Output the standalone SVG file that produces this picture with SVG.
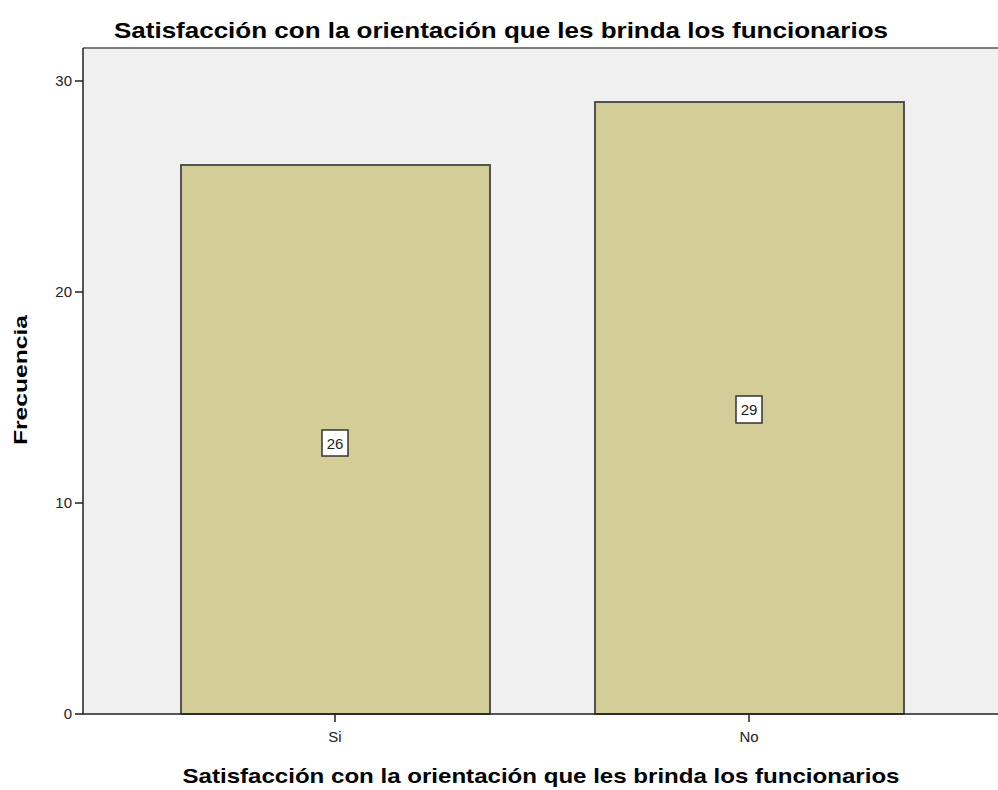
<svg xmlns="http://www.w3.org/2000/svg" width="998" height="790" viewBox="0 0 998 790">
<style>
.t{font-family:"Liberation Sans",Arial,sans-serif;fill:#000}
.title{font-size:22px;font-weight:bold;text-anchor:middle}
.tick{font-size:15px;fill:#222}
.bar{fill:#d3cd98;stroke:#444;stroke-width:1.8}
.lbl{fill:#fff;stroke:#333;stroke-width:1.5}
.ax{stroke:#222;stroke-width:1.5;fill:none}
</style>
<rect width="998" height="790" fill="#fff"/>
<text class="t title" x="501" y="38" textLength="774" lengthAdjust="spacingAndGlyphs">Satisfacción con la orientación que les brinda los funcionarios</text>
<rect x="83" y="48" width="915" height="666" fill="#f0f0f0"/>
<line x1="83" y1="48" x2="998" y2="48" stroke="#555" stroke-width="1.5"/>
<g id="bar-si">
<rect class="bar" x="181" y="165" width="309" height="549"/>
<rect class="lbl" x="322" y="430" width="26" height="26"/>
<text class="t tick" x="335" y="448.5" text-anchor="middle">26</text>
</g>
<g id="bar-no">
<rect class="bar" x="595" y="102" width="309" height="612"/>
<rect class="lbl" x="736" y="396" width="26" height="27"/>
<text class="t tick" x="749" y="415" text-anchor="middle">29</text>
</g>
<g id="axes">
<path class="ax" d="M83 48V714H998"/>
<path class="ax" d="M75 81H83M75 292H83M75 503H83M75 714H83M335 714V722M749 714V722"/>
<text class="t tick" x="72" y="86" text-anchor="end">30</text>
<text class="t tick" x="72" y="297" text-anchor="end">20</text>
<text class="t tick" x="72" y="508" text-anchor="end">10</text>
<text class="t tick" x="72" y="719" text-anchor="end">0</text>
<text class="t tick" x="335" y="742" text-anchor="middle">Si</text>
<text class="t tick" x="749" y="742" text-anchor="middle">No</text>
</g>
<text class="t title" x="541" y="783" textLength="717" lengthAdjust="spacingAndGlyphs" style="font-size:21px">Satisfacción con la orientación que les brinda los funcionarios</text>
<text class="t title" transform="translate(27 380) rotate(-90)" textLength="130" lengthAdjust="spacingAndGlyphs" style="font-size:19px">Frecuencia</text>
</svg>
